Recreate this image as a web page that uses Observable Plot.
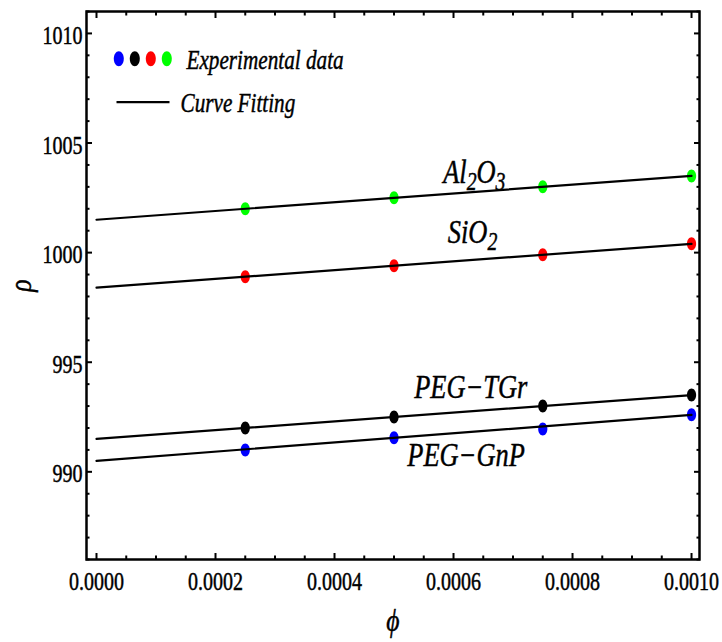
<!DOCTYPE html>
<html><head><meta charset="utf-8">
<script src="https://cdn.jsdelivr.net/npm/d3@7"></script>
<script src="https://cdn.jsdelivr.net/npm/@observablehq/plot@0.6"></script>
<style>html,body{margin:0;padding:0;background:#fff;}</style>
</head><body><div id="chart"></div>
<script>
// ---- data ----
const phi = [0.00025, 0.0005, 0.00075, 0.001];
const seriesNames = ["PEG−GnP", "PEG−TGr", "SiO2", "Al2O3"];
const seriesColors = ["#0000ff", "#000000", "#ff0000", "#00ff00"];
const rhoPegGnP = [991.0, 991.55, 991.95, 992.6];
const rhoPegTGr = [992.0, 992.5, 993.0, 993.5];
const rhoSiO2 = [998.9, 999.4, 999.9, 1000.4];
const rhoAl2O3 = [1002.0, 1002.5, 1003.0, 1003.5];
const fitPhi = [0, 0.001];
const fitPegGnP = [990.5, 992.6];
const fitPegTGr = [991.5, 993.5];
const fitSiO2 = [998.4, 1000.4];
const fitAl2O3 = [1001.5, 1003.5];
const labelPhi = [0.000621, 0.000629, 0.000632, 0.000635];
const labelRho = [990.74, 993.87, 1000.93, 1003.67];
const xTicks = [0, 0.0002, 0.0004, 0.0006, 0.0008, 0.001];
const yTicks = [990, 995, 1000, 1005, 1010];
const legendLabels = ["Experimental data", "Curve Fitting"];
const xLabel = "ϕ";
const yLabel = "ρ";

// ---- tables built from the arrays ----
const rhoSeries = [rhoPegGnP, rhoPegTGr, rhoSiO2, rhoAl2O3];
const fitSeries = [fitPegGnP, fitPegTGr, fitSiO2, fitAl2O3];
const points = seriesNames.flatMap((name, s) => phi.map((p, i) => ({name, color: seriesColors[s], phi: p, rho: rhoSeries[s][i]})));
const fits = seriesNames.flatMap((name, s) => fitPhi.map((p, i) => ({name, phi: p, rho: fitSeries[s][i]})));
const labels = seriesNames.map((name, s) => ({name, phi: labelPhi[s], rho: labelRho[s]}));
const xMinor = d3.range(0, 21).map(i => +(i * 0.00005).toFixed(6)).filter(v => !xTicks.some(t => Math.abs(t - v) < 1e-9));
const yMinor = d3.range(986, 1012).filter(v => !yTicks.includes(v));

function ellipse(rx, ry) {
  return {draw(c) {
    const kx = rx * 0.5523, ky = ry * 0.5523;
    c.moveTo(rx, 0);
    c.bezierCurveTo(rx, ky, kx, ry, 0, ry);
    c.bezierCurveTo(-kx, ry, -rx, ky, -rx, 0);
    c.bezierCurveTo(-rx, -ky, -kx, -ry, 0, -ry);
    c.bezierCurveTo(kx, -ry, rx, -ky, rx, 0);
    c.closePath();
  }};
}
const hLine = (half) => ({draw(c) { c.moveTo(-half, 0); c.lineTo(half, 0); }});

const FONT = "'Liberation Serif', 'Times New Roman', Times, serif";
const noText = () => "";
const tickAxes = [];
for (const [vals, len] of [[xTicks, 6], [xMinor, 3.5]]) {
  tickAxes.push(Plot.axisX({ticks: vals, anchor: "bottom", tickSize: len, dy: -len, tickFormat: noText, label: null, strokeWidth: 2}));
  tickAxes.push(Plot.axisX({ticks: vals, anchor: "top", tickSize: len, dy: len, tickFormat: noText, label: null, strokeWidth: 2}));
}
for (const [vals, len] of [[yTicks, 6], [yMinor, 3.5]]) {
  tickAxes.push(Plot.axisY({ticks: vals, anchor: "left", tickSize: len, dx: len, tickFormat: noText, label: null, strokeWidth: 2}));
  tickAxes.push(Plot.axisY({ticks: vals, anchor: "right", tickSize: len, dx: -len, tickFormat: noText, label: null, strokeWidth: 2}));
}

const chart = Plot.plot({
  width: 722,
  height: 642,
  marginLeft: 86,
  marginRight: 23,
  marginTop: 11,
  marginBottom: 83,
  style: {fontSize: "25px", color: "black", background: "white"},
  x: {domain: [-0.0000168, 0.0010134]},
  y: {domain: [986, 1011]},
  marks: [
    ...tickAxes,
    Plot.axisX({ticks: xTicks, anchor: "bottom", tickSize: 0, tickPadding: 13, tickFormat: d3.format(".4f"), label: null, fontSize: 25}),
    Plot.axisY({ticks: yTicks, anchor: "left", tickSize: 0, tickPadding: 4, dy: 2.5, tickFormat: d3.format("d"), label: null, fontSize: 25}),
    Plot.dot(points, {x: "phi", y: "rho", fill: "color", stroke: "none", symbol: ellipse(4.6, 6.5)}),
    Plot.line(fits, {x: "phi", y: "rho", z: "name", stroke: "black", strokeWidth: 2.2}),
    Plot.text(labels, {x: "phi", y: "rho", text: "name", fontSize: 33, fontStyle: "italic", textAnchor: "middle", lineAnchor: "middle"}),
    // legend
    ...seriesColors.map((c, i) => Plot.dot([c], {frameAnchor: "top-left", dx: 32.3 + 16 * i, dy: 47.3, symbol: ellipse(5, 7.5), fill: c, stroke: "none"})),
    Plot.text([legendLabels[0]], {frameAnchor: "top-left", text: d => d, dx: 100, dy: 49, textAnchor: "start", lineAnchor: "middle", fontSize: 26.5, fontStyle: "italic"}),
    Plot.dot([legendLabels[1]], {frameAnchor: "top-left", dx: 56.5, dy: 90.7, symbol: hLine(26.5), fill: "none", stroke: "black", strokeWidth: 2.2}),
    Plot.text([legendLabels[1]], {frameAnchor: "top-left", text: d => d, dx: 94, dy: 92.4, textAnchor: "start", lineAnchor: "middle", fontSize: 26.5, fontStyle: "italic"}),
    // axis titles
    Plot.text([yLabel], {frameAnchor: "left", text: d => d, dx: -65.5, rotate: -90, textAnchor: "middle", lineAnchor: "middle", fontSize: 32, fontStyle: "italic"}),
    Plot.text([xLabel], {frameAnchor: "bottom", text: d => d, dy: 61.5, textAnchor: "middle", lineAnchor: "middle", fontSize: 32, fontStyle: "italic"}),
    Plot.frame({stroke: "black", strokeWidth: 2.5})
  ]
});
chart.style.fontFamily = FONT;
document.getElementById("chart").append(chart);

// subscripts for chemical formulas
const subs = {"Al2O3": [["Al", 0], ["2", 1], ["O", 0], ["3", 1]], "SiO2": [["Si", 0], ["O", 0], ["2", 1]]};
chart.querySelectorAll("text").forEach(t => {
  const parts = subs[t.textContent];
  if (!parts) return;
  t.textContent = "";
  let down = false;
  for (const [s, sub] of parts) {
    const ts = document.createElementNS("http://www.w3.org/2000/svg", "tspan");
    ts.textContent = s;
    if (sub && !down) { ts.setAttribute("dy", "7"); down = true; }
    else if (!sub && down) { ts.setAttribute("dy", "-7"); down = false; }
    if (sub) ts.setAttribute("font-size", "0.75em");
    t.appendChild(ts);
  }
});
// condensed, slightly heavier glyphs as in the reference
chart.querySelectorAll("text").forEach(t => {
  t.style.fontFamily = FONT;
  t.style.stroke = "black";
  t.style.strokeWidth = "0.45px";
  const tr = t.getAttribute("transform");
  if (tr) t.setAttribute("transform", tr + " scale(0.8,1)");
  else {
    const x = +(t.getAttribute("x") || 0);
    t.setAttribute("x", 0);
    t.setAttribute("transform", `translate(${x},0) scale(0.8,1)`);
  }
});
</script>
</body></html>
